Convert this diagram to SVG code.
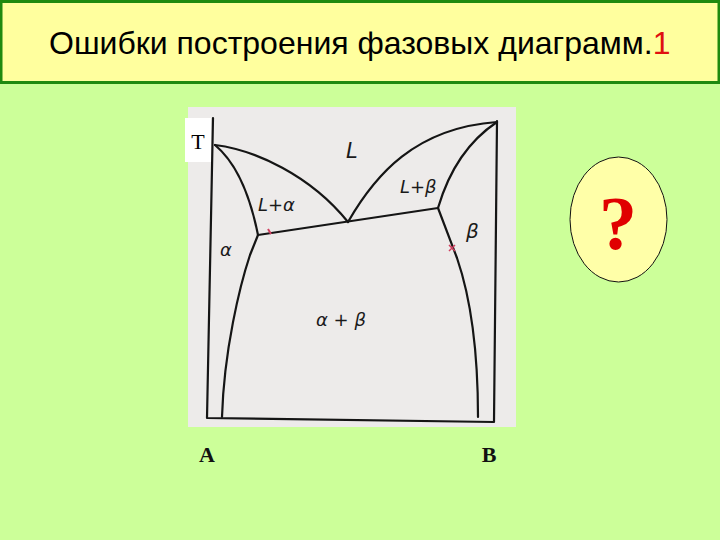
<svg xmlns="http://www.w3.org/2000/svg" width="720" height="540" viewBox="0 0 720 540">
<style>
.curve{fill:none;stroke:#151515;stroke-width:2.2;stroke-linecap:round;stroke-linejoin:round}
.hand{font-family:"DejaVu Sans","Liberation Sans",sans-serif;font-style:italic;fill:#1a1a1a}
.lbl{font-family:"Liberation Serif","Times New Roman",serif;font-weight:bold;fill:#111}
</style>
<rect x="0" y="0" width="720" height="540" fill="#CCFF99"/>
<g id="title">
<rect x="1" y="1.5" width="718" height="81" fill="#FFFF9E" stroke="#1F8A0F" stroke-width="3"/>
<text x="49" y="54" font-family="Liberation Sans, Arial, sans-serif" font-size="32" fill="#000">Ошибки построения фазовых диаграмм.<tspan fill="#E01010">1</tspan></text>
</g>
<g id="diagram">
<rect x="188" y="107" width="328" height="320" fill="#EDEBEA"/>
<rect x="185" y="118" width="26" height="44" fill="#FFFFFF"/>
<text x="198" y="149" font-family="Liberation Serif, serif" font-size="22" text-anchor="middle" fill="#000">T</text>
</g>
<g id="connectors">
<path class="curve" d="M213,118 L207,418 L494,422 L497,121"/>
<path class="curve" d="M215,145 C255,150 310,175 348,222"/>
<path class="curve" d="M215,145 Q245,170 258,235"/>
<path class="curve" d="M258,235 L250,255 C240,285 224,350 222,417"/>
<path class="curve" stroke-width="3" d="M258,235 L438,208"/>
<path class="curve" d="M348,222 C375,175 415,128 497,122"/>
<path class="curve" d="M497,122 Q455,150 438,208"/>
<path class="curve" d="M438,208 L457,258 C468,290 478,340 478,417"/>
<path d="M268,229 l3,5" stroke="#D04060" stroke-width="2" fill="none"/>
<path d="M449,245 l6,6 M455,245 l-6,6" stroke="#D04060" stroke-width="1.5" fill="none"/>
</g>
<g id="labels">
<text class="hand" x="346" y="158" font-size="21">L</text>
<text class="hand" x="258" y="211" font-size="18">L+α</text>
<text class="hand" x="400" y="193" font-size="18">L+β</text>
<text class="hand" x="220" y="256" font-size="18">α</text>
<text class="hand" x="466" y="238" font-size="20">β</text>
<text class="hand" x="316" y="326" font-size="18">α + β</text>
</g>
<g id="question">
<ellipse cx="618.5" cy="219.5" rx="48.5" ry="62.5" fill="#FFFFA8" stroke="#111" stroke-width="1"/>
<text x="618" y="249" font-family="Liberation Serif, serif" font-weight="bold" font-size="76" text-anchor="middle" fill="#E00000">?</text>
</g>
<g id="axis-labels">
<text class="lbl" x="207" y="462" font-size="22" text-anchor="middle">A</text>
<text class="lbl" x="489" y="462" font-size="22" text-anchor="middle">B</text>
</g>
</svg>
